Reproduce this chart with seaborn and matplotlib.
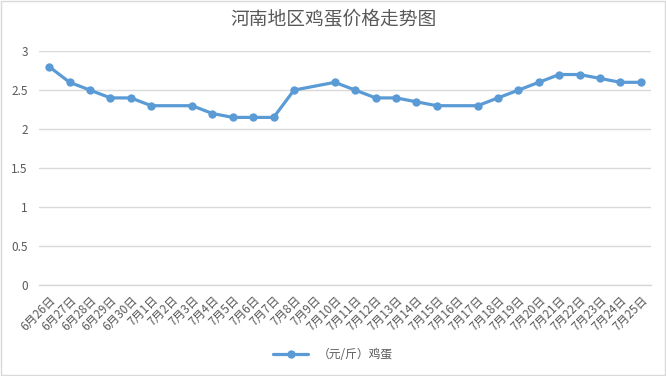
"""Henan egg price trend line chart."""

import matplotlib.pyplot as plt
import numpy as np
import pandas as pd
import seaborn as sns
from matplotlib.patches import Rectangle

# Data (None = no price recorded that day)
dates = (
    [f"6月{d}日" for d in range(26, 31)]
    + [f"7月{d}日" for d in range(1, 26)]
)
prices = [
    2.8, 2.6, 2.5, 2.4, 2.4,            # 6/26 - 6/30
    2.3, None, 2.3, 2.2, 2.15,          # 7/1 - 7/5
    2.15, 2.15, 2.5, None, 2.6,         # 7/6 - 7/10
    2.5, 2.4, 2.4, 2.35, 2.3,           # 7/11 - 7/15
    None, 2.3, 2.4, 2.5, 2.6,           # 7/16 - 7/20
    2.7, 2.7, 2.65, 2.6, 2.6,           # 7/21 - 7/25
]
y_ticks = [0, 0.5, 1, 1.5, 2, 2.5, 3]
series_name = "（元/斤）鸡蛋"
title = "河南地区鸡蛋价格走势图"

# Colours
line_color = "#5B9BD5"
text_color = "#595959"
grid_color = "#D9D9D9"

df = pd.DataFrame({"date": dates, "price": prices})
df["pos"] = np.arange(len(df))
df = df.dropna()

sns.set_style("white")
plt.rcParams["font.family"] = ["Noto Sans CJK SC", "DejaVu Sans"]

fig = plt.figure(figsize=(6.66, 3.76), dpi=100)
ax = fig.add_axes([0.0586, 0.242, 0.9189, 0.622])

sns.lineplot(
    data=df,
    x="pos",
    y="price",
    marker="o",
    color=line_color,
    linewidth=2.3,
    markersize=6,
    markeredgewidth=0,
    label=series_name,
    ax=ax,
)

# Axes formatting
ax.set_xlim(-0.5, len(dates) - 0.5)
ax.set_ylim(0, 3)
ax.set_yticks(y_ticks)
ax.set_yticklabels([f"{v:g}" for v in y_ticks], fontsize=8.5, color=text_color)
ax.set_xticks(np.arange(len(dates)))
ax.set_xticklabels(
    dates, rotation=45, ha="right", rotation_mode="anchor",
    fontsize=8.5, color=text_color,
)
ax.set_xticks(np.arange(len(dates) + 1) - 0.5, minor=True)
ax.tick_params(axis="x", which="major", length=0, pad=6)
ax.tick_params(axis="x", which="minor", length=5, color=grid_color, width=1)
ax.tick_params(axis="y", length=0, pad=8)
ax.set_xlabel("")
ax.set_ylabel("")
ax.grid(axis="y", color=grid_color, linewidth=1)
ax.set_axisbelow(True)
for side in ["left", "right", "top"]:
    ax.spines[side].set_visible(False)
ax.spines["bottom"].set_color(grid_color)
ax.spines["bottom"].set_linewidth(1)

# Legend below the plot
ax.legend(
    loc="center",
    bbox_to_anchor=(0.5, 0.058),
    bbox_transform=fig.transFigure,
    frameon=False,
    fontsize=8.5,
    labelcolor=text_color,
    handlelength=3,
)

fig.text(0.5, 0.947, title, ha="center", va="center", fontsize=13.5, color=text_color)

# Light frame round the chart
fig.patches.append(
    Rectangle((0.001, 0.002), 0.997, 0.995, transform=fig.transFigure,
              fill=False, edgecolor=grid_color, linewidth=1)
)

fig.savefig("out.png", dpi=100)
plt.close()
